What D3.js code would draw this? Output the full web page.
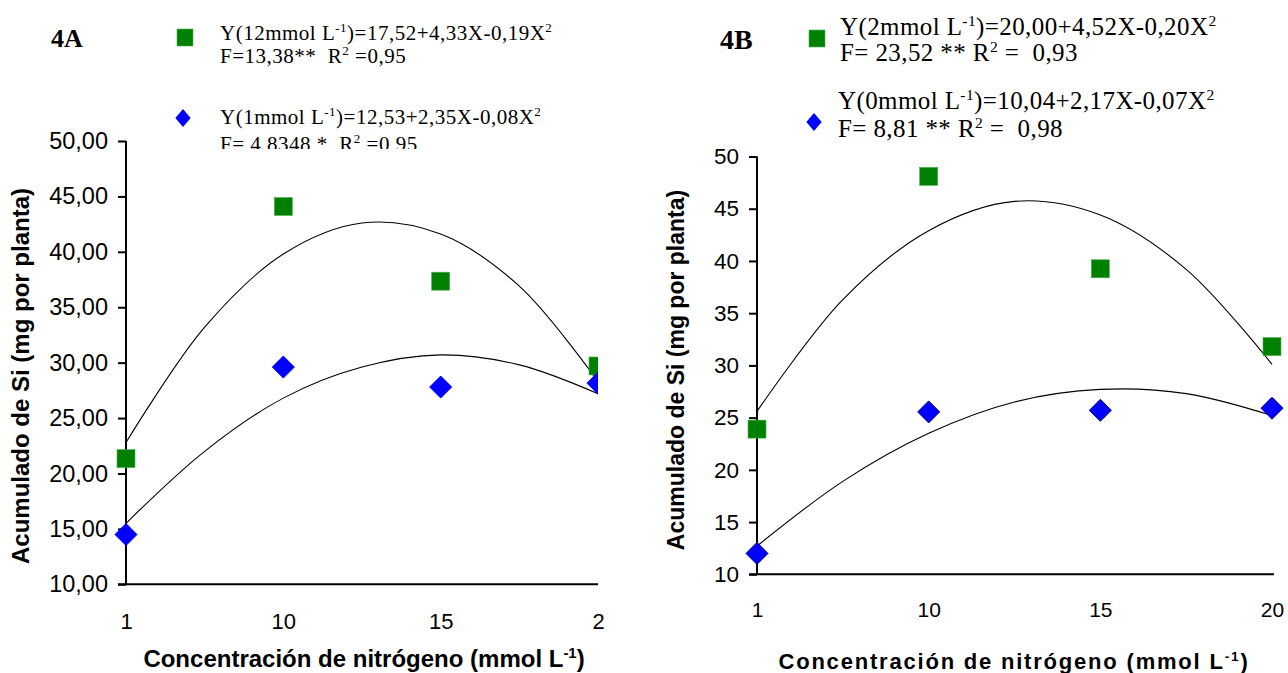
<!DOCTYPE html>
<html><head><meta charset="utf-8">
<script src="https://cdn.jsdelivr.net/npm/d3@7"></script>
<style>
body{margin:0;background:#fff;}
svg text{white-space:pre;}
</style></head>
<body><svg id="c" width="1288" height="673"></svg>
<script>
// ---- data ----
const categories = ["1","10","15","20"];
const leftTickLabels = ["1","10","15","2"];
const rightTickLabels = ["1","10","15","20"];
const leftYTicks = [10,15,20,25,30,35,40,45,50];
const rightYTicks = [10,15,20,25,30,35,40,45,50];
// measured points
const leftGreen = [21.34, 44.09, 37.35, 29.70];
const leftBlue  = [14.49, 29.60, 27.80, 28.15];
const rightGreen = [23.90, 48.10, 39.25, 31.80];
const rightBlue  = [12.00, 25.55, 25.70, 25.90];
// trend curves at half-category steps
const curveSteps = [0, 0.5, 1, 1.5, 2, 2.5, 3];
const leftGreenCurve  = [22.8, 33.2, 39.8, 42.6, 41.6, 36.9, 28.3];
const leftBlueCurve   = [15.5, 22.0, 26.8, 29.6, 30.7, 29.8, 27.2];
const rightGreenCurve = [25.6, 36.3, 42.9, 45.7, 44.4, 39.2, 30.1];
const rightBlueCurve  = [12.7, 18.9, 23.5, 26.5, 27.7, 27.3, 25.2];

const svg = d3.select("#c");
const SANS = "'Liberation Sans', Arial, sans-serif";
const SERIF = "'Liberation Serif', 'Times New Roman', serif";

function supText(sel, parts, size){
  let pending = 0;
  parts.forEach(p=>{
    if(p.sup){
      sel.append("tspan").attr("dy",pending - size*0.38).attr("font-size",size*0.62).text(p.t);
      pending = size*0.38;
    } else {
      sel.append("tspan").attr("dy",pending).text(p.t);
      pending = 0;
    }
  });
}

function panel(o){
  const g = svg.append("g");
  const x = d3.scalePoint().domain(categories).range([o.x0,o.x1]);
  const xc = d3.scaleLinear().domain([0,3]).range([o.x0,o.x1]);
  const y = d3.scaleLinear().domain([10,50]).range([o.y0,o.y1]);

  // y axis
  const ya = g.append("g").attr("transform",`translate(${o.x0},0)`)
    .call(d3.axisLeft(y).tickValues(o.yTicks).tickSize(8).tickPadding(o.tickPad).tickFormat(o.fmt));
  ya.select(".domain").attr("stroke","#000").attr("stroke-width",2).attr("d",`M-0,${o.y0}V${o.y1}`);
  ya.selectAll(".tick line").attr("stroke","#000").attr("stroke-width",2);
  ya.selectAll(".tick text").attr("font-family",SANS).attr("font-size",o.tickFs).attr("fill","#000");

  // x axis
  const xa = g.append("g").attr("transform",`translate(0,${o.y0})`)
    .call(d3.axisBottom(x).tickSize(0).tickPadding(o.xPad).tickFormat((d,i)=>o.xLabels[i]));
  xa.select(".domain").attr("stroke","#000").attr("stroke-width",2).attr("d",`M${o.x0-8},0H${o.x1+o.xExt}`);
  xa.selectAll(".tick text").attr("font-family",SANS).attr("font-size",o.xTickFs).attr("fill","#000");

  // curves
  const line = d3.line().x((d,i)=>xc(curveSteps[i])).y(d=>y(d)).curve(d3.curveCatmullRom);
  [o.gCurve,o.bCurve].forEach(c=>{
    g.append("path").attr("d",line(c)).attr("fill","none").attr("stroke","#000").attr("stroke-width",1.1);
  });

  // clip for markers at the right edge
  const cid = "clip"+o.id;
  svg.append("clipPath").attr("id",cid).append("rect")
    .attr("x",o.x0-30).attr("y",o.y1-30).attr("width",o.x1-o.x0+30+o.clipR).attr("height",o.y0-o.y1+60);
  const mg = g.append("g").attr("clip-path",`url(#${cid})`);
  const s = o.sq;
  mg.selectAll(".sq").data(o.green).join("rect")
    .attr("x",(d,i)=>x(categories[i])-s/2).attr("y",d=>y(d)-s/2)
    .attr("width",s).attr("height",s).attr("fill","#008000").attr("stroke","#4caf50").attr("stroke-width",0.6);
  const dm = o.dm;
  mg.selectAll(".dm").data(o.blue).join("path")
    .attr("d",(d,i)=>{const cx=x(categories[i]),cy=y(d);return `M${cx},${cy-dm}L${cx+dm},${cy}L${cx},${cy+dm}L${cx-dm},${cy}Z`;})
    .attr("fill","#0000ff").attr("stroke",o.dmStroke).attr("stroke-width",1);

  // y label
  g.append("text").attr("transform",`translate(${o.ylx},${o.yly}) rotate(-90)`)
    .attr("text-anchor","middle").attr("font-family",SANS).attr("font-weight","bold")
    .attr("font-size",o.ylabFs).text("Acumulado de Si (mg por planta)");
  // x label
  const xl = g.append("text").attr("x",o.xlx).attr("y",o.xly).attr("text-anchor","middle")
    .attr("font-family",SANS).attr("font-weight","bold").attr("font-size",o.xlabFs)
    .attr("letter-spacing",o.xls);
  supText(xl,[{t:"Concentración de nitrógeno (mmol L"},{t:"-1",sup:true},{t:")"}],o.xlabFs);

  // panel tag
  g.append("text").attr("x",o.tagX).attr("y",o.tagY).attr("font-family",SERIF).attr("font-weight","bold")
    .attr("font-size",o.tagFs).text(o.tag);

  // legend
  const lg = g.append("g");
  if(o.legClip){
    svg.append("clipPath").attr("id","lc"+o.id).append("rect").attr("x",0).attr("y",0).attr("width",640).attr("height",o.legClip);
    lg.attr("clip-path",`url(#lc${o.id})`);
  }
  lg.append("rect").attr("x",o.lgSq[0]-8).attr("y",o.lgSq[1]-8).attr("width",16).attr("height",17)
    .attr("fill","#008000").attr("stroke","#4caf50").attr("stroke-width",0.6);
  const [dx,dy]=o.lgDm; const r=9;
  lg.append("path").attr("d",`M${dx},${dy-r}L${dx+r*0.85},${dy}L${dx},${dy+r}L${dx-r*0.85},${dy}Z`).attr("fill","#0000ff");
  o.legLines.forEach(L=>{
    const t = lg.append("text").attr("x",L.x).attr("y",L.y).attr("font-family",SERIF)
      .attr("font-size",o.legFs).attr("letter-spacing",o.legLs).attr("fill","#000");
    supText(t,L.parts,o.legFs);
  });
}

panel({
  id:"A", x0:126, x1:598, y0:584.3, y1:141, yTicks:leftYTicks, fmt:d=>d3.format(".2f")(d).replace(".",","),
  tickFs:23.5, xTickFs:22, tickPad:10, xPad:29, xLabels:leftTickLabels, xExt:0, clipR:0,
  green:leftGreen, blue:leftBlue, gCurve:leftGreenCurve, bCurve:leftBlueCurve,
  sq:18, dm:11, dmStroke:"#0000ff",
  ylx:29, yly:376, ylabFs:24, xlx:364, xly:667, xlabFs:24, xls:0,
  tag:"4A", tagX:51, tagY:47, tagFs:26,
  lgSq:[185,37], lgDm:[183,118], legFs:21, legLs:0.5, legClip:149,
  legLines:[
    {x:220,y:40,parts:[{t:"Y(12mmol L"},{t:"-1",sup:true},{t:")=17,52+4,33X-0,19X"},{t:"2",sup:true}]},
    {x:220,y:63,parts:[{t:"F=13,38**  R"},{t:"2",sup:true},{t:" =0,95"}]},
    {x:220,y:124,parts:[{t:"Y(1mmol L"},{t:"-1",sup:true},{t:")=12,53+2,35X-0,08X"},{t:"2",sup:true}]},
    {x:220,y:151,parts:[{t:"F= 4,8348 *  R"},{t:"2",sup:true},{t:" =0,95"}]}
  ]
});

panel({
  id:"B", x0:757, x1:1272, y0:574.3, y1:156.5, yTicks:rightYTicks, fmt:d3.format("d"),
  tickFs:22.5, xTickFs:21, tickPad:10, xPad:28, xLabels:rightTickLabels, xExt:2, clipR:20,
  green:rightGreen, blue:rightBlue, gCurve:rightGreenCurve, bCurve:rightBlueCurve,
  sq:18, dm:11, dmStroke:"#000080",
  ylx:684, yly:370, ylabFs:23, xlx:1014, xly:669, xlabFs:22, xls:1.8,
  tag:"4B", tagX:720, tagY:49, tagFs:28,
  lgSq:[817,38], lgDm:[814,122], legFs:25, legLs:0.4, legClip:0,
  legLines:[
    {x:840,y:35,parts:[{t:"Y(2mmol L"},{t:"-1",sup:true},{t:")=20,00+4,52X-0,20X"},{t:"2",sup:true}]},
    {x:840,y:61,parts:[{t:"F= 23,52 ** R"},{t:"2",sup:true},{t:" =  0,93"}]},
    {x:838,y:109,parts:[{t:"Y(0mmol L"},{t:"-1",sup:true},{t:")=10,04+2,17X-0,07X"},{t:"2",sup:true}]},
    {x:838,y:137,parts:[{t:"F= 8,81 ** R"},{t:"2",sup:true},{t:" =  0,98"}]}
  ]
});
</script></body></html>
